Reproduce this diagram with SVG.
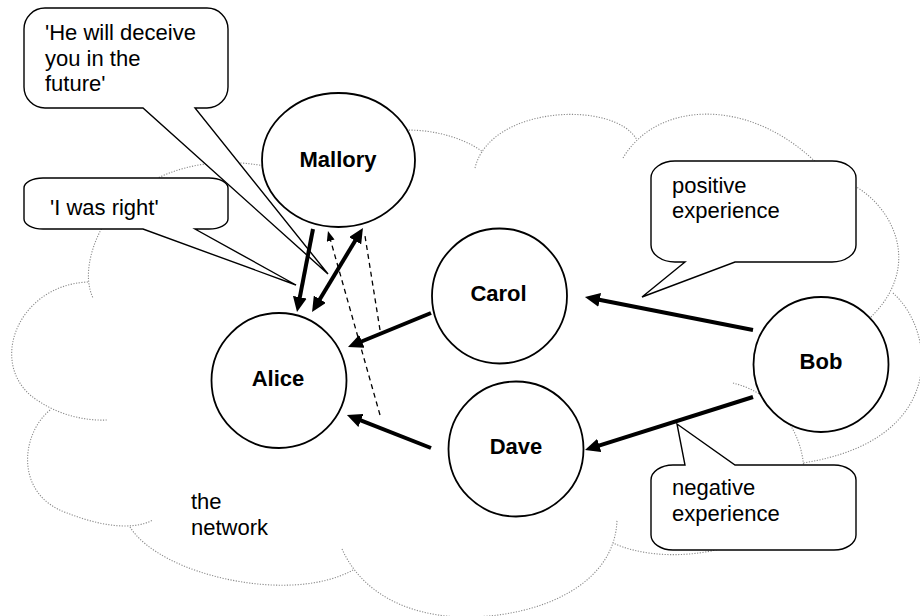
<svg xmlns="http://www.w3.org/2000/svg" width="920" height="616" viewBox="0 0 920 616">
  <defs>
    <style>
      .cloud{fill:none;stroke:#8a8a8a;stroke-width:1.1;stroke-dasharray:1.2 1.5}
      .callout{fill:#fff;stroke:#000;stroke-width:1.4;stroke-linejoin:miter}
      .node{fill:#fff;stroke:#000;stroke-width:1.8}
      .txt{font-family:"Liberation Sans",Arial,sans-serif;font-size:22px;fill:#000}
      .lbl{font-family:"Liberation Sans",Arial,sans-serif;font-size:22px;font-weight:bold;fill:#000;text-anchor:middle}
      .thick{stroke:#000;stroke-width:4;fill:none}
      .dash{stroke:#000;stroke-width:1.3;stroke-dasharray:5 4;fill:none}
    </style>
    <marker id="head" markerUnits="userSpaceOnUse" markerWidth="16" markerHeight="14" viewBox="0 0 16 14" refX="7" refY="7" orient="auto-start-reverse">
      <path d="M0,0 L15,7 L0,14 Z" fill="#000"/>
    </marker>
    <marker id="small" markerUnits="userSpaceOnUse" markerWidth="10" markerHeight="8" viewBox="0 0 10 8" refX="4" refY="4" orient="auto">
      <path d="M0,0 L10,4 L0,8 Z" fill="#000"/>
    </marker>
  </defs>
  <rect width="920" height="616" fill="#fff"/>

  <!-- the network: dotted cloud outline -->
  <g id="network">
    <path class="cloud" d="M140,188 C175,165 225,153 290,172"/>
    <path class="cloud" d="M390,132 C420,126 460,135 483,152"/>
    <path class="cloud" d="M475,168 C490,105 615,100 637,140"/>
    <path class="cloud" d="M623,158 C660,95 770,95 840,190"/>
    <path class="cloud" d="M835,178 C885,190 935,265 862,325"/>
    <path class="cloud" d="M893,293 C935,330 950,440 803,463"/>
    <path class="cloud" d="M733,383 A93,93 0 0 1 800,500"/>
    <path class="cloud" d="M770,520 C745,555 660,565 613,543"/>
    <path class="cloud" d="M342,549 C365,600 420,618 470,617 C540,616 615,585 617,520"/>
    <path class="cloud" d="M130,527 C160,575 290,605 353,570"/>
    <path class="cloud" d="M50,410 C20,435 15,495 67,513 C95,524 130,532 153,520"/>
    <path class="cloud" d="M88,282 C15,285 -15,370 40,402 C60,415 85,421 107,420"/>
    <path class="cloud" d="M110,215 C92,240 82,275 93,298"/>
    <text class="txt" x="191" y="509">the</text>
    <text class="txt" x="191" y="535">network</text>
  </g>

  <!-- speech callouts -->
  <g id="callout-right">
    <path class="callout" d="M43,178 H209 A19,10 0 0 1 228,188 V219 A19,10 0 0 1 209,229 H195 L296,285 L143,229 H43 A19,10 0 0 1 24,219 V188 A19,10 0 0 1 43,178 Z"/>
    <text class="txt" x="50" y="215">'I was right'</text>
  </g>
  <g id="callout-deceive">
    <path class="callout" d="M45,8 H207 A21,21 0 0 1 228,29 V87 A21,21 0 0 1 207,108 H195 L328,274 L143,108 H45 A21,21 0 0 1 24,87 V29 A21,21 0 0 1 45,8 Z"/>
    <text class="txt" x="45" y="40">'He will deceive</text>
    <text class="txt" x="45" y="65.5">you in the</text>
    <text class="txt" x="45" y="91">future'</text>
  </g>
  <g id="callout-positive">
    <path class="callout" d="M675,161 H832 A24,17 0 0 1 856,178 V245 A24,17 0 0 1 832,262 H735 L642,297 L685,262 H675 A24,17 0 0 1 651,245 V178 A24,17 0 0 1 675,161 Z"/>
    <text class="txt" x="672" y="193">positive</text>
    <text class="txt" x="672" y="218">experience</text>
  </g>
  <g id="callout-negative">
    <path class="callout" d="M673,465 H685 L677,424 L735,465 H834 A22,15 0 0 1 856,480 V535 A22,15 0 0 1 834,550 H673 A22,15 0 0 1 651,535 V480 A22,15 0 0 1 673,465 Z"/>
    <text class="txt" x="672" y="495">negative</text>
    <text class="txt" x="672" y="521">experience</text>
  </g>

  <!-- connectors -->
  <g id="connectors">
    <line class="dash" x1="380" y1="415" x2="329.6" y2="236.8" marker-end="url(#small)"/>
    <line class="dash" x1="380" y1="330" x2="365" y2="236"/>
    <line class="thick" x1="753" y1="330" x2="592.8" y2="298.5" marker-end="url(#head)"/>
    <line class="thick" x1="753" y1="397" x2="592.6" y2="447.6" marker-end="url(#head)"/>
    <line class="thick" x1="431" y1="313" x2="355.4" y2="344" marker-end="url(#head)"/>
    <line class="thick" x1="431" y1="448" x2="354.4" y2="417.9" marker-end="url(#head)"/>
    <line class="thick" x1="313" y1="229" x2="298.5" y2="304.1" marker-end="url(#head)"/>
    <line class="thick" x1="316.2" y1="305.2" x2="358.8" y2="234.8" marker-start="url(#head)" marker-end="url(#head)"/>
  </g>

  <!-- nodes -->
  <g id="mallory">
    <ellipse class="node" cx="338.5" cy="160" rx="76.5" ry="67"/>
    <text class="lbl" x="338" y="167">Mallory</text>
  </g>
  <g id="alice">
    <circle class="node" cx="279" cy="380.5" r="67.5"/>
    <text class="lbl" x="278" y="386">Alice</text>
  </g>
  <g id="carol">
    <circle class="node" cx="499.5" cy="296" r="67.5"/>
    <text class="lbl" x="498.5" y="301">Carol</text>
  </g>
  <g id="dave">
    <circle class="node" cx="516" cy="449" r="67.5"/>
    <text class="lbl" x="516" y="454">Dave</text>
  </g>
  <g id="bob">
    <circle class="node" cx="821" cy="364.5" r="67.5"/>
    <text class="lbl" x="821" y="369">Bob</text>
  </g>
</svg>
